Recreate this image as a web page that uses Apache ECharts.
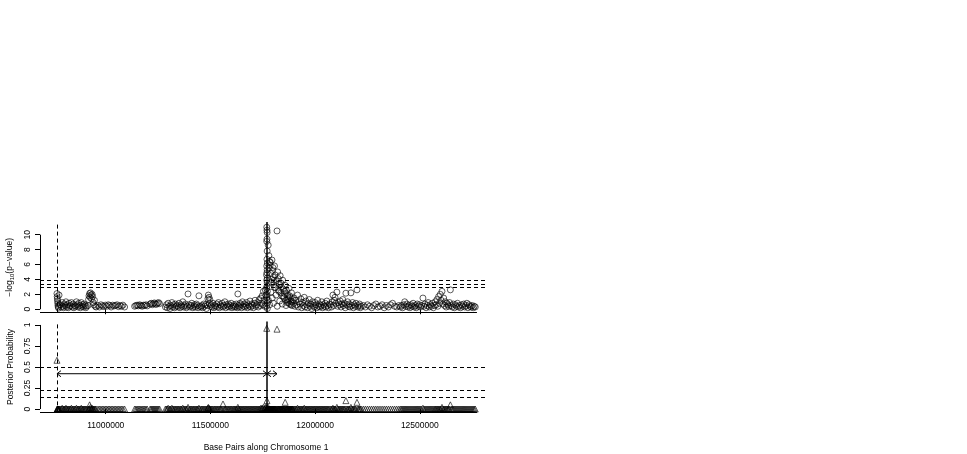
<!DOCTYPE html>
<html><head><meta charset="utf-8">
<script src="https://cdn.jsdelivr.net/npm/echarts@6/dist/echarts.min.js"></script>
<style>html,body{margin:0;padding:0;background:#fff}#c{width:967px;height:454px}</style>
</head><body><div id="c"></div>
<script>
// SNP positions (kb along chromosome 1)
const snpKb = [
  10767,10768,10769,10770,10771,10772,10773,10775,10777,10779,
  10784,10788,10792,10795,10799,10803,10806,10810,10813,10817,10821,10825,10829,10832,10836,10840,10844,10848,10852,10856,10860,10864,10868,10871,10875,10879,10883,10886,10890,10894,10897,10901,10905,10908,
  10915,10918,10920,10923,10925,10927,10930,10932,10935,10937,10940,10943,10946,10950,10954,
  10963,10970,10977,10984,10991,10998,11005,11012,11019,11026,11033,11040,11047,11054,11061,11068,11075,11082,11090,
  11138,11144,11150,11156,11162,11168,11174,11180,11186,11192,11198,
  11212,11217,11222,11227,11232,11237,11242,11247,11252,11257,
  11285,11290,11294,11298,11303,11307,11311,11316,11320,11324,11329,11333,11337,11342,11346,11350,11355,11359,11363,11368,11372,11376,11381,11385,11389,11393,11398,11403,11407,11411,11416,11420,11424,11429,11433,11437,11441,11445,11449,
  11455,11459,11463,11468,11472,11477,11481,11486,11488,11490,11493,11495,11497,11500,11504,11508,11512,11517,11521,11525,11530,11534,11538,11543,11547,11551,11556,11560,11564,11569,11573,11577,11582,11586,11590,11595,11599,11603,11608,11612,11616,
  11620,11624,11628,11631,11634,11637,11641,11645,11649,11653,11657,11661,11665,11669,11673,11677,11681,11685,11689,11693,11697,11701,11705,11709,11713,11717,11721,11725,11729,11733,11737,11741,11744,11747,11750,11753,11756,11759,11762,11765,
  11769,11770,11771,11770,11769,11771,11770,11772,11769,11771,11770,11768,11772,11769,11771,11770,11768,11772,11770,11769,11771,11770,11768,11772,
  11776,11779,11782,11785,11788,11791,11794,11797,11800,11803,11806,11809,11812,11815,11818,11821,11824,11827,11830,11833,11836,11839,11842,11845,11848,11851,11854,11857,11860,11863,11866,11869,11872,11875,11878,11881,11884,11887,11890,11893,
  11777,11783,11789,11795,11801,11807,11813,11819,11825,11831,11837,11843,11849,11855,11861,11867,11873,11879,11885,11891,11780,11786,11792,11798,11804,
  11896,11900,11904,11908,11912,11916,11920,11924,11928,11932,11936,11940,11944,11948,11952,11956,11960,11964,11968,11972,11976,11980,11984,11988,11992,11996,12000,12004,12008,12012,12016,12020,12024,12028,12032,12036,12040,12044,12048,12052,12056,12060,12064,12068,
  12074,12078,12082,12085,12089,12092,12095,12099,12104,12108,12112,12116,12120,12124,12128,12132,12136,12140,12144,12147,12151,12155,12159,12163,12167,12171,12175,12179,12183,12187,12191,12195,12200,12204,12208,12212,12216,12220,
  12230,12240,12250,12260,12270,12280,12290,12300,12310,12320,12330,12340,12350,12360,12370,12380,12390,12400,
  12408,12413,12418,12423,12428,12433,12438,12443,12448,12453,12458,12463,12468,12473,12478,12483,12488,12493,12498,12503,12508,
  12515,
  12520,12525,12530,12535,12540,12545,12550,12555,12560,12565,12570,
  12574,12578,12582,12586,12590,12594,12598,12602,12606,12610,12614,12618,12622,12626,12630,12634,12638,12642,12646,
  12650,12655,12660,12665,12670,12675,12680,12685,12690,12695,12700,12705,12710,12715,12720,12725,12730,12735,12740,12745,12750,12755,12760,12765
];
// -log10(p-value)
const logP = [
  2.1,1.7,1.4,1.1,0.8,0.5,0.3,0.15,1.9,0.6,
  0.6,0.3,0.9,0.4,0.2,0.7,0.5,1.0,0.3,0.6,0.2,0.8,0.4,0.5,0.9,0.3,0.7,0.2,0.5,0.4,1.0,0.6,0.3,0.8,0.5,0.2,0.9,0.4,0.6,0.3,0.7,0.5,0.2,0.4,
  0.5,1.3,1.8,2.1,1.6,2.2,1.9,1.4,2.0,1.7,0.9,0.6,1.2,0.4,0.3,
  0.5,0.3,0.6,0.45,0.35,0.55,0.4,0.6,0.5,0.3,0.55,0.45,0.5,0.6,0.35,0.5,0.4,0.55,0.3,
  0.4,0.5,0.55,0.45,0.6,0.5,0.4,0.55,0.5,0.6,0.45,
  0.7,0.8,0.6,0.75,0.85,0.7,0.65,0.8,0.9,0.75,
  0.3,0.6,0.2,0.8,0.4,0.1,0.5,0.9,0.3,0.6,0.2,0.7,0.4,0.5,0.3,0.8,0.2,0.6,0.4,1.0,0.3,0.5,0.7,0.2,0.4,2.05,0.6,0.3,0.5,0.8,0.2,0.4,0.6,0.3,0.7,0.5,0.2,1.8,0.4,
  0.3,0.5,0.2,0.7,0.4,0.6,0.1,0.5,1.4,1.9,1.6,0.8,1.3,0.4,0.6,0.3,0.8,0.2,0.5,0.4,0.7,0.3,0.9,0.2,0.6,0.4,0.8,0.3,0.5,1.0,0.2,0.6,0.4,0.7,0.3,0.5,0.8,0.2,0.4,0.6,0.3,
  0.4,0.7,0.2,2.05,0.5,0.3,0.8,0.6,0.2,1.0,0.4,0.7,0.3,0.5,0.9,0.2,0.6,0.4,1.1,0.3,0.7,0.5,0.2,0.8,1.2,0.4,0.6,0.9,0.3,1.3,0.5,1.5,0.8,1.8,0.6,2.4,1.2,0.4,2.6,1.9,
  11.0,10.6,10.3,9.4,9.1,7.8,6.7,6.2,5.8,5.3,4.9,4.6,4.2,3.9,3.5,3.1,2.8,2.4,2.0,1.6,1.2,0.8,0.4,0.1,
  8.6,7.2,6.4,5.9,4.8,3.6,6.6,5.2,4.3,3.3,5.8,4.6,2.9,3.8,10.5,5.0,4.1,2.4,3.4,4.5,2.2,3.0,1.8,3.9,2.7,1.5,2.1,3.2,1.2,2.5,0.9,1.9,1.4,2.8,0.7,1.6,1.1,2.2,0.5,1.3,
  1.2,0.6,2.3,1.5,0.8,2.9,1.9,0.4,2.6,1.1,3.5,0.7,1.7,2.4,0.5,1.3,0.9,1.8,0.6,1.0,5.5,6.3,4.0,5.6,3.9,
  0.8,1.5,0.4,1.2,0.6,1.9,0.3,1.0,0.7,1.4,0.2,0.9,0.5,1.6,0.3,1.1,0.6,0.2,0.8,1.3,0.4,0.7,0.1,1.0,0.5,0.3,0.9,0.6,0.2,1.2,0.4,0.7,0.3,0.5,1.0,0.2,0.6,0.4,0.8,0.3,1.1,0.5,0.2,0.7,
  0.6,0.3,1.0,1.9,0.5,1.2,1.6,0.8,2.3,0.4,0.9,0.6,1.1,0.3,0.7,1.3,0.5,0.8,0.2,2.15,0.6,1.0,0.4,0.7,0.3,2.2,0.5,0.9,0.2,0.6,0.4,0.8,2.6,0.3,0.5,0.7,0.2,0.4,
  0.5,0.3,0.6,0.4,0.2,0.5,0.7,0.3,0.4,0.6,0.2,0.5,0.3,0.6,0.8,0.4,0.3,0.5,
  0.3,0.5,0.2,0.6,1.0,0.4,0.7,0.3,0.5,0.2,0.6,0.4,0.8,0.3,0.5,0.2,0.7,0.4,0.6,0.3,0.5,
  1.5,
  0.4,0.7,0.2,0.5,0.9,0.3,0.6,0.4,0.8,0.2,0.5,
  1.0,0.6,1.3,0.4,1.7,0.8,2.0,1.2,2.4,0.7,1.5,0.5,1.0,0.3,0.8,0.6,0.4,0.9,2.6,
  0.5,0.3,0.7,0.2,0.6,0.4,0.8,0.3,0.5,0.2,0.6,0.4,0.7,0.3,0.5,0.8,0.2,0.6,0.4,0.3,0.5,0.2,0.4,0.3
];
// posterior probability of each SNP
const postProb = [
  0.58,0,0,0,0,0,0,0,0,0,
  0,0,0.01,0,0,0,0,0.01,0,0,0,0,0,0,0.01,0,0,0,0,0,0.01,0,0,0,0,0,0.01,0,0,0,0,0,0,0,
  0,0,0,0.05,0,0.02,0,0,0.01,0,0,0,0,0,0,
  0,0,0,0,0,0,0,0,0,0,0,0,0,0,0,0,0,0,0,
  0,0,0,0,0,0,0,0,0,0,0,
  0,0,0,0,0,0,0,0,0,0,
  0,0,0,0.01,0,0,0,0.01,0,0,0,0,0,0,0,0,0,0,0,0.01,0,0,0,0,0,0.02,0,0,0,0,0,0,0,0,0,0,0,0.01,0,
  0,0,0,0,0,0,0,0,0.01,0.02,0.01,0,0,0,0,0,0,0,0,0,0,0,0,0,0,0,0,0.06,0,0,0,0,0,0,0,0,0,0,0,0,0,
  0,0,0,0.02,0,0,0,0,0,0,0,0,0,0,0,0,0,0,0,0,0,0,0,0,0,0,0,0,0,0,0,0.01,0,0.01,0,0.02,0,0,0.02,0.01,
  0.96,0.1,0.02,0,0,0,0,0,0,0,0,0,0,0,0,0,0,0,0,0,0,0,0,0,
  0.02,0,0,0,0,0,0,0,0,0,0,0,0,0,0.95,0,0,0,0,0,0,0,0,0,0,0,0,0.08,0,0,0,0,0,0,0,0,0,0,0,0,
  0,0,0,0,0,0,0,0,0,0,0,0,0,0,0,0,0,0,0,0,0,0,0,0,0,
  0,0,0,0,0,0.01,0,0,0,0,0,0,0,0.01,0,0,0,0,0,0,0,0,0,0,0,0,0,0,0,0,0,0,0,0,0,0,0,0,0,0,0,0,0,0,
  0,0,0,0.01,0,0,0,0,0.02,0,0,0,0,0,0,0,0,0,0,0.1,0,0,0,0,0,0.02,0,0,0,0,0,0,0.08,0,0,0,0,0,
  0,0,0,0,0,0,0,0,0,0,0,0,0,0,0,0,0,0,
  0,0,0,0,0,0,0,0,0,0,0,0,0,0,0,0,0,0,0,0,0,
  0.01,
  0,0,0,0,0,0,0,0,0,0,0,
  0,0,0,0,0,0,0,0,0.02,0,0,0,0,0,0,0,0,0,0.05,
  0,0,0,0,0,0,0,0,0,0,0,0,0,0,0,0,0,0,0,0,0,0,0,0
];
const xTicks = [11000000, 11500000, 12000000, 12500000];
const logPTicks = [0, 2, 4, 6, 8, 10];
const postTicks = [0, 0.25, 0.5, 0.75, 1];
const logPThresholds = [3.85, 3.36, 2.96];
const postThresholds = [0.5, 0.22, 0.14];
const boundaryBp = 10767000;
const leadBp = 11770000;
const intervalEndBp = 11818000;
const arrowSegments = [[10767000, leadBp, 0.42], [leadBp, intervalEndBp, 0.42]];

const X_MIN = 10686000, X_MAX = 12821000, X_AXIS_END = 12773000;
const Y1_MIN = -0.45, Y1_MAX = 11.7, Y2_MIN = -0.04, Y2_MAX = 1.04;
const FONT = 'Liberation Sans, Arial, Helvetica, sans-serif';
const topData = snpKb.map((k, i) => [k * 1000, logP[i]]);
const botData = snpKb.map((k, i) => [k * 1000, postProb[i]]);

const solid = {type: 'solid', color: '#000', width: 1};
const dashed = {type: [4, 3], color: '#000', width: 1};

function xAxisCfg(idx, showLabels) {
  return {
    type: 'value', gridIndex: idx, min: X_MIN, max: X_MAX,
    axisLine: {show: false}, splitLine: {show: false},
    axisTick: {show: true, customValues: xTicks, length: 5, inside: false, lineStyle: {color: '#000', width: 1}},
    axisLabel: {show: showLabels, customValues: xTicks, formatter: v => String(v), color: '#000', fontFamily: FONT, fontSize: 8.5, margin: 9},
    name: showLabels ? 'Base Pairs along Chromosome 1' : '',
    nameLocation: 'middle', nameGap: 31,
    nameTextStyle: {color: '#000', fontFamily: FONT, fontSize: 8.5, padding: [0, 0, 0, 5]}
  };
}
function yAxisCfg(idx, min, max, ticks, name, rich) {
  return {
    type: 'value', gridIndex: idx, min, max,
    axisLine: {show: false}, splitLine: {show: false},
    axisTick: {show: true, customValues: ticks, length: 5, lineStyle: {color: '#000', width: 1}},
    axisLabel: {customValues: ticks, rotate: 90, color: '#000', fontFamily: FONT, fontSize: 8.5, margin: 8, formatter: v => String(v)},
    name, nameLocation: 'middle', nameRotate: 90, nameGap: 25,
    nameTextStyle: {color: '#000', fontFamily: FONT, fontSize: 8.5, rich: rich || {}}
  };
}

const chart = echarts.init(document.getElementById('c'), null, {renderer: 'canvas'});
chart.setOption({
  animation: false,
  backgroundColor: '#fff',
  grid: [
    {left: 40, top: 222, width: 447, height: 90.6},
    {left: 40, top: 321.6, width: 447, height: 90.8}
  ],
  xAxis: [xAxisCfg(0, false), xAxisCfg(1, true)],
  yAxis: [
    yAxisCfg(0, Y1_MIN, Y1_MAX, logPTicks, '−log{s|10}(p−value)', {s: {fontSize: 6, fontFamily: FONT, color: '#000', padding: [5, 0, 0, 0]}}),
    yAxisCfg(1, Y2_MIN, Y2_MAX, postTicks, 'Posterior Probability')
  ],
  series: [
    {
      type: 'scatter', xAxisIndex: 0, yAxisIndex: 0, data: topData,
      symbol: 'circle', symbolSize: 6,
      itemStyle: {color: 'rgba(0,0,0,0)', borderColor: '#000', borderWidth: 0.8},
      silent: true,
      markLine: {
        silent: true, symbol: 'none', label: {show: false}, animation: false,
        data: [
          ...logPThresholds.map(v => ({yAxis: v, lineStyle: dashed})),
          {xAxis: boundaryBp, lineStyle: dashed},
          {xAxis: leadBp, lineStyle: {type: 'solid', color: '#000', width: 1.5}},
          [{coord: [X_MIN, 0], lineStyle: solid}, {coord: [X_MIN, 10]}],
          [{coord: [X_MIN, Y1_MIN], lineStyle: solid}, {coord: [X_AXIS_END, Y1_MIN]}]
        ]
      }
    },
    {
      type: 'scatter', xAxisIndex: 1, yAxisIndex: 1, data: botData,
      symbol: 'triangle', symbolSize: 6,
      itemStyle: {color: 'rgba(0,0,0,0)', borderColor: '#000', borderWidth: 0.8},
      silent: true,
      markLine: {
        silent: true, symbol: 'none', label: {show: false}, animation: false,
        data: [
          ...postThresholds.map(v => ({yAxis: v, lineStyle: dashed})),
          {xAxis: boundaryBp, lineStyle: dashed},
          {xAxis: leadBp, lineStyle: {type: 'solid', color: '#000', width: 1.5}},
          [{coord: [X_MIN, 0], lineStyle: solid}, {coord: [X_MIN, 1]}],
          [{coord: [X_MIN, Y2_MIN], lineStyle: solid}, {coord: [X_AXIS_END, Y2_MIN]}]
        ]
      }
    },
    {
      type: 'custom', xAxisIndex: 1, yAxisIndex: 1, data: arrowSegments, silent: true,
      renderItem(params, api) {
        const p0 = api.coord([api.value(0), api.value(2)]);
        const p1 = api.coord([api.value(1), api.value(2)]);
        const h = 4, w = 3;
        const st = {stroke: '#000', fill: null, lineWidth: 1};
        return {type: 'group', children: [
          {type: 'line', shape: {x1: p0[0], y1: p0[1], x2: p1[0], y2: p1[1]}, style: st},
          {type: 'polyline', shape: {points: [[p0[0] + h, p0[1] - w], [p0[0], p0[1]], [p0[0] + h, p0[1] + w]]}, style: st},
          {type: 'polyline', shape: {points: [[p1[0] - h, p1[1] - w], [p1[0], p1[1]], [p1[0] - h, p1[1] + w]]}, style: st}
        ]};
      }
    }
  ]
});
</script></body></html>
